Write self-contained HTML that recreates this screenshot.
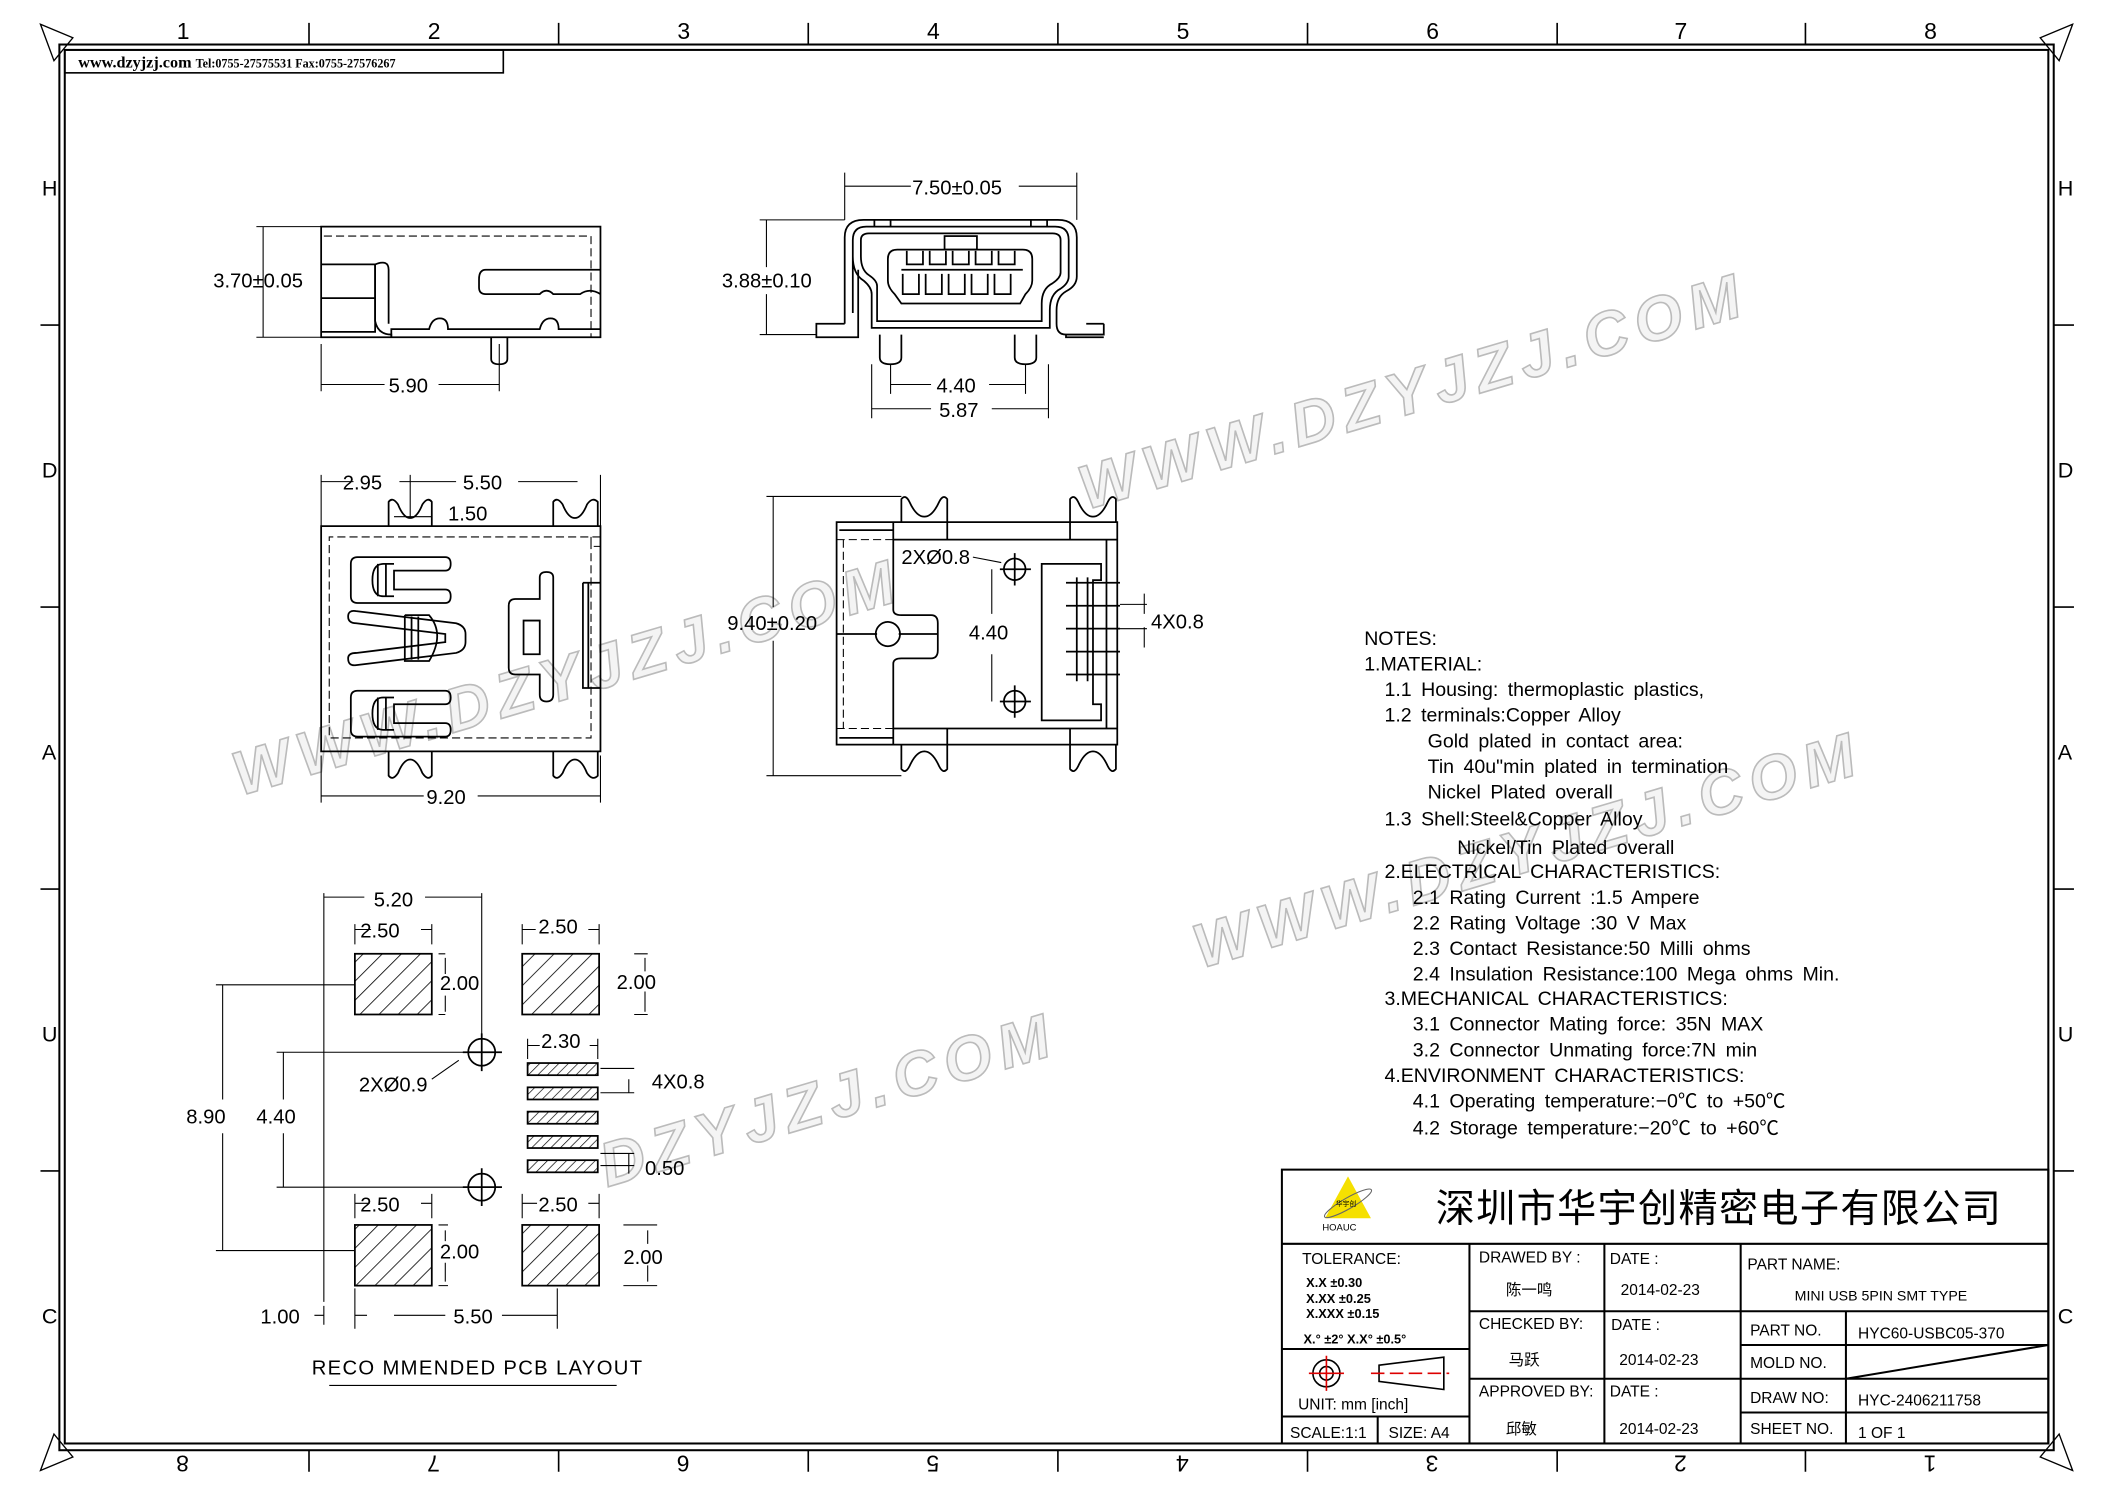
<!DOCTYPE html>
<html><head><meta charset="utf-8"><style>
html,body{margin:0;padding:0;background:#fff}
svg{display:block}
text{font-family:"Liberation Sans","Noto Sans CJK SC",sans-serif;fill:#000}
.t{font-size:15px}
.n{font-size:14.5px}
.s{font-family:"Liberation Serif","Noto Serif CJK SC",serif}
.wm{font-family:"Liberation Sans",sans-serif;font-weight:bold;font-size:46px;fill:#f4f4f4;stroke:#bbb;stroke-width:1.2;letter-spacing:6px;font-style:italic}
</style></head><body>
<svg width="2105" height="1488" viewBox="0 0 1560 1103" preserveAspectRatio="none" xmlns="http://www.w3.org/2000/svg">
<defs>
<pattern id="h" width="10" height="10" patternUnits="userSpaceOnUse" patternTransform="rotate(45)"><line x1="0" y1="0" x2="0" y2="10" stroke="#000" stroke-width="1.2"/></pattern>
<pattern id="h2" width="5" height="5" patternUnits="userSpaceOnUse" patternTransform="rotate(45)"><line x1="0" y1="0" x2="0" y2="5" stroke="#000" stroke-width="1"/></pattern>
</defs>
<rect width="1560" height="1103" fill="#fff"/>
<!-- watermarks -->
<g>
<text class="wm" transform="translate(805,378) rotate(-16.5)">WWW.DZYJZJ.COM</text>
<text class="wm" transform="translate(178,590) rotate(-16.5)">WWW.DZYJZJ.COM</text>
<text class="wm" transform="translate(890,718) rotate(-16.5)">WWW.DZYJZJ.COM</text>
<text class="wm" transform="translate(450,880) rotate(-16.5)">DZYJZJ.COM</text>
</g>
<!-- frame -->
<g fill="none" stroke="#000">
<rect x="44" y="33" width="1478" height="1042" stroke-width="1.5"/>
<rect x="48" y="37" width="1470" height="1033" stroke-width="1.5"/>
<path d="M229,17V33M414,17V33M599,17V33M784,17V33M969,17V33M1154,17V33M1338,17V33" stroke-width="1.2"/>
<path d="M229,1075V1091M414,1075V1091M599,1075V1091M784,1075V1091M969,1075V1091M1154,1075V1091M1338,1075V1091" stroke-width="1.2"/>
<path d="M30,241H44M30,450H44M30,659H44M30,868H44M1522,241H1537M1522,450H1537M1522,659H1537M1522,868H1537" stroke-width="1.2"/>
<path d="M30,18L54,28L40,45Z M1536,18L1512,28L1526,45Z M30,1090L54,1080L40,1063Z M1536,1090L1512,1080L1526,1063Z" stroke-width="1"/>
<rect x="48" y="37" width="325" height="17" stroke-width="1.2"/>
</g>
<g class="t" font-size="17">
<text x="131" y="29" font-size="17">1</text><text x="317" y="29" font-size="17">2</text><text x="502" y="29" font-size="17">3</text><text x="687" y="29" font-size="17">4</text><text x="872" y="29" font-size="17">5</text><text x="1057" y="29" font-size="17">6</text><text x="1241" y="29" font-size="17">7</text><text x="1426" y="29" font-size="17">8</text>
<g font-size="17">
<text transform="translate(140,1079) rotate(180)">8</text><text transform="translate(326,1079) rotate(180)">7</text><text transform="translate(511,1079) rotate(180)">6</text><text transform="translate(696,1079) rotate(180)">5</text><text transform="translate(881,1079) rotate(180)">4</text><text transform="translate(1066,1079) rotate(180)">3</text><text transform="translate(1250,1079) rotate(180)">2</text><text transform="translate(1435,1079) rotate(180)">1</text>
</g>
<text x="31" y="145" font-size="16">H</text><text x="31" y="354" font-size="16">D</text><text x="31" y="563" font-size="16">A</text><text x="31" y="772" font-size="16">U</text><text x="31" y="981" font-size="16">C</text>
<text x="1525" y="145" font-size="16">H</text><text x="1525" y="354" font-size="16">D</text><text x="1525" y="563" font-size="16">A</text><text x="1525" y="772" font-size="16">U</text><text x="1525" y="981" font-size="16">C</text>
</g>
<text x="58" y="50" class="s" font-size="12" font-weight="bold">www.dzyjzj.com <tspan font-size="9">Tel:0755-27575531  Fax:0755-27576267</tspan></text>

<!-- VIEW 1 side -->
<g fill="none" stroke="#000" stroke-width="1.3">
<path d="M238,168H445V250H238Z"/>
<path d="M240,175H438V250" stroke-dasharray="6,3" stroke-width="0.8"/>
<path d="M238,196H278V246H238M238,221H278"/>
<path d="M278,196V238Q280,248 290,248V250M278,196Q288,192 288,200V240"/>
<path d="M445,200H360Q355,200 355,207V213Q355,218 360,218H400Q405,213 410,218H430Q437,213 445,218"/>
<path d="M290,250V244H318Q320,236 326,236Q332,236 332,244H400Q402,236 408,236Q414,236 414,244H445"/>
<path d="M364,250V266Q364,270 370,270Q376,270 376,266V250"/>
<path d="M190,168H238M190,250H238M195,168V250M238,255V290M370,255V290M238,285H285M325,285H370" stroke-width="0.8"/>
</g>
<text x="158" y="213" class="t">3.70±0.05</text>
<text x="288" y="291" class="t">5.90</text>

<!-- VIEW 2 front -->
<g fill="none" stroke="#000" stroke-width="1.3">
<path d="M626,240V176Q626,163 640,163H784Q798,163 798,176V205Q798,212 790,216Q783,220 783,230V240Q783,248 790,248H818V240"/>
<path d="M626,240H605V250H636V200"/>
<path d="M632,232V178Q632,168 642,168H782Q792,168 792,178V205Q792,210 786,214Q778,218 778,230V243H646V218Q646,213 640,208Q632,203 632,190"/>
<path d="M638,178Q638,173 644,173H780Q786,173 786,178V202Q786,206 780,210Q772,214 772,225V238H650V212Q650,208 644,204Q638,200 638,190Z"/>
<path d="M790,248V250H818M805,240H818"/>
<path d="M665,185H758Q765,185 765,192V208Q765,213 760,218L756,225H668L663,218Q658,213 658,208V192Q658,185 665,185Z"/>
<path d="M668,200H758M669,203V218H681V203M686,203V218H698V203M703,203V218H715V203M720,203V218H732V203M737,203V218H749V203"/>
<path d="M672,186V196H684V186M689,186V196H701V186M706,186V196H718V186M723,186V196H735V186M740,186V196H752V186"/>
<rect x="700" y="175" width="24" height="10"/>
<path d="M648,168V163M660,168V163M764,168V163M776,168V163"/>
<path d="M652,248V265Q652,270 660,270Q668,270 668,265V248M752,248V265Q752,270 760,270Q768,270 768,265V248"/>
<path d="M626,163V128M798,163V128M626,138H675M755,138H798M563,163H626M563,248H605M568,163V198M568,218V248M660,270V292M760,270V292M646,270V310M777,270V310M660,285H690M733,285H760M646,303H690M735,303H777" stroke-width="0.8"/>
</g>
<text x="676" y="144" class="t">7.50±0.05</text>
<text x="535" y="213" class="t">3.88±0.10</text>
<text x="694" y="291" class="t">4.40</text>
<text x="696" y="309" class="t">5.87</text>

<!-- VIEW 3 top -->
<g fill="none" stroke="#000" stroke-width="1.3">
<path d="M238,390H445V557H238Z"/>
<path d="M445,398H244V547H438V398M438,398V405H445" stroke-dasharray="6,3" stroke-width="0.8"/>
<path d="M288,390V372Q291,368 295,374Q299,384 304,384Q309,384 313,374Q317,368 320,372V390"/>
<path d="M410,390V372Q413,368 417,374Q421,384 426,384Q431,384 435,374Q439,368 443,372V390"/>
<path d="M288,557V575Q291,579 295,573Q299,563 304,563Q309,563 313,573Q317,579 320,575V557"/>
<path d="M410,557V575Q413,579 417,573Q421,563 426,563Q431,563 435,573Q439,579 443,575V557"/>
<path d="M265,413H330Q334,413 334,418Q334,423 330,423H292V437H330Q334,437 334,442Q334,447 330,447H265Q260,447 260,442V418Q260,413 265,413Z"/>
<path d="M280,418V442M286,418V442M292,418H284Q276,418 276,430Q276,442 284,442H292"/>
<path d="M265,512H330Q334,512 334,517Q334,522 330,522H292V536H330Q334,536 334,541Q334,546 330,546H265Q260,546 260,541V517Q260,512 265,512Z"/>
<path d="M280,517V541M286,517V541M292,517H284Q276,517 276,529Q276,541 284,541H292"/>
<path d="M264,453L338,462Q345,464 345,470V476Q345,482 338,484L264,493Q258,494 258,488Q258,484 264,484L330,476V470L264,462Q258,462 258,457Q258,452 264,453Z"/>
<path d="M300,456H318Q330,470 318,490H300V456M310,457V489M305,457V489"/>
<path d="M382,444H400V428Q400,424 405,424Q410,424 410,428V515Q410,520 405,520Q400,520 400,515V500H382Q377,500 377,495V449Q377,444 382,444Z"/>
<path d="M388,460H400V485H388Z"/>
<path d="M432,432H445M432,432V510H445M436,432V510"/>
<path d="M238,352V390M445,352V390M304,352V384M288,372V388M320,372V388M238,357H262M296,357H338M384,357H428M292,383H320M238,560V595M445,560V595M238,590H314M354,590H445" stroke-width="0.8"/>
</g>
<text x="254" y="363" class="t">2.95</text><text x="343" y="363" class="t">5.50</text><text x="332" y="386" class="t">1.50</text><text x="316" y="596" class="t">9.20</text>

<!-- VIEW 4 bottom -->
<g fill="none" stroke="#000" stroke-width="1.3">
<path d="M620,387H828V552H620Z"/>
<path d="M662,400H828M662,400V452Q662,456 668,456H690Q695,456 695,462V482Q695,488 690,488H668Q662,488 662,492V540H828M662,400V387M662,540V552"/>
<path d="M620,400H662M620,540H662M625,400V540" stroke-dasharray="6,3" stroke-width="0.8"/>
<path d="M622,393H662M622,547H662"/>
<path d="M668,387V370Q671,366 674,372Q679,383 685,383Q691,383 696,372Q699,366 702,370V387M793,387V370Q796,366 799,372Q804,383 810,383Q816,383 821,372Q824,366 827,370V387"/>
<path d="M668,552V570Q671,574 674,568Q679,557 685,557Q691,557 696,568Q699,574 702,570V552M793,552V570Q796,574 799,568Q804,557 810,557Q816,557 821,568Q824,574 827,570V552"/>
<path d="M702,387V400M793,387V400M702,540V552M793,540V552"/>
<path d="M820,400V540M772,418H816V430H810V522H816V534H772Z"/>
<path d="M790,432H830M790,449H830M790,466H830M790,483H830M790,500H830M798,428V505M806,428V505"/>
<circle cx="752" cy="422" r="8"/><circle cx="752" cy="520" r="8"/>
<circle cx="658" cy="470" r="9"/>
<path d="M741,422H764M752,410V434M741,520H764M752,508V532"/>
<path d="M620,470H650M666,470H695"/>
<path d="M568,368H668M568,575H668M573,368V450M573,475V575M735,422V455M735,485V520M721,413L742,417M848,440V455M848,465V480M830,448H850M830,466H850" stroke-width="0.8"/>
</g>
<text x="539" y="467" class="t">9.40±0.20</text>
<text x="668" y="418" class="t">2XØ0.8</text>
<text x="718" y="474" class="t">4.40</text>
<text x="853" y="466" class="t">4X0.8</text>

<!-- PCB layout -->
<g fill="none" stroke="#000" stroke-width="1.3">
<rect x="263" y="707" width="57" height="45" fill="url(#h)"/>
<rect x="387" y="707" width="57" height="45" fill="url(#h)"/>
<rect x="263" y="908" width="57" height="45" fill="url(#h)"/>
<rect x="387" y="908" width="57" height="45" fill="url(#h)"/>
<rect x="391" y="788" width="52" height="9" fill="url(#h2)"/>
<rect x="391" y="806" width="52" height="9" fill="url(#h2)"/>
<rect x="391" y="824" width="52" height="9" fill="url(#h2)"/>
<rect x="391" y="842" width="52" height="9" fill="url(#h2)"/>
<rect x="391" y="860" width="52" height="9" fill="url(#h2)"/>
<circle cx="357" cy="780" r="10"/><circle cx="357" cy="880" r="10"/>
<path d="M343,780H372M357,766V794M343,880H372M357,866V894"/>
<g stroke-width="0.8">
<path d="M240,662V965M357,662V780M240,665H270M315,665H357M263,685V700M320,685V700M263,689H275M312,689H320M387,685V700M444,685V700M387,689H397M436,689H444"/>
<path d="M325,707H330M325,752H330M330,710V722M330,738V750M470,707H480M470,752H480M478,710V720M478,735V750"/>
<path d="M391,770V785M443,770V785M391,775H400M437,775H443M445,792H470M445,810H470M445,864H470M445,855H470M466,800V810M466,855V870"/>
<path d="M160,730H263M160,927H263M165,730V815M165,840V927M205,780H357M205,880H357M210,780V815M210,840V880M320,800L340,786"/>
<path d="M263,885V903M320,885V903M263,892H274M312,892H320M387,885V903M444,885V903M387,892H398M436,892H444M325,908H332M325,953H332M330,912V920M330,936V950M462,908H487M462,953H487M480,912V922M480,938V950"/>
<path d="M263,955V985M413,955V985M233,975H240M263,975H272M292,975H330M372,975H413M240,968V982"/>
<path d="M244,1027H457"/>
</g>
</g>
<text x="277" y="672" class="t">5.20</text>
<text x="267" y="695" class="t">2.50</text><text x="399" y="692" class="t">2.50</text>
<text x="326" y="734" class="t">2.00</text><text x="457" y="733" class="t">2.00</text>
<text x="401" y="777" class="t">2.30</text>
<text x="483" y="807" class="t">4X0.8</text>
<text x="266" y="809" class="t">2XØ0.9</text>
<text x="138" y="833" class="t">8.90</text><text x="190" y="833" class="t">4.40</text>
<text x="478" y="871" class="t">0.50</text>
<text x="267" y="898" class="t">2.50</text><text x="399" y="898" class="t">2.50</text>
<text x="326" y="933" class="t">2.00</text><text x="462" y="937" class="t">2.00</text>
<text x="193" y="981" class="t">1.00</text><text x="336" y="981" class="t">5.50</text>
<text x="231" y="1019" class="t" font-size="15.5" letter-spacing="1">RECO MMENDED PCB LAYOUT</text>

<!-- NOTES -->
<g class="n">
<text x="1011" y="478">NOTES:</text>
<text x="1011" y="497">1.MATERIAL:</text>
<text x="1026" y="516" word-spacing="3">1.1  Housing: thermoplastic plastics,</text>
<text x="1026" y="535" word-spacing="3">1.2  terminals:Copper Alloy</text>
<text x="1058" y="554" word-spacing="3">Gold plated in contact area:</text>
<text x="1058" y="573" word-spacing="3">Tin 40u"min plated in termination</text>
<text x="1058" y="592" word-spacing="3">Nickel Plated overall</text>
<text x="1026" y="612" word-spacing="3">1.3  Shell:Steel&amp;Copper Alloy</text>
<text x="1080" y="633" word-spacing="3">Nickel/Tin Plated overall</text>
<text x="1026" y="651" word-spacing="3">2.ELECTRICAL CHARACTERISTICS:</text>
<text x="1047" y="670" word-spacing="3">2.1  Rating Current :1.5 Ampere</text>
<text x="1047" y="689" word-spacing="3">2.2  Rating Voltage :30 V Max</text>
<text x="1047" y="708" word-spacing="3">2.3  Contact Resistance:50 Milli ohms</text>
<text x="1047" y="727" word-spacing="3">2.4  Insulation Resistance:100 Mega ohms Min.</text>
<text x="1026" y="745" word-spacing="3">3.MECHANICAL CHARACTERISTICS:</text>
<text x="1047" y="764" word-spacing="3">3.1  Connector Mating force: 35N MAX</text>
<text x="1047" y="783" word-spacing="3">3.2  Connector Unmating force:7N min</text>
<text x="1026" y="802" word-spacing="3">4.ENVIRONMENT CHARACTERISTICS:</text>
<text x="1047" y="821" word-spacing="3">4.1  Operating temperature:−0℃ to +50℃</text>
<text x="1047" y="841" word-spacing="3">4.2  Storage temperature:−20℃ to +60℃</text>
</g>

<!-- Title block -->
<g fill="none" stroke="#000" stroke-width="1.5">
<rect x="950" y="867" width="568" height="203"/>
<path d="M950,922H1518M1089,922V1070M1189,922V1070M1290,922V1070M1089,972H1290M1089,1022H1290M1290,972H1518M1290,997H1518M1290,1022H1518M1290,1047H1518M1368,972V1070M1368,1022L1518,997M950,1000H1089M950,1050H1089M1021,1050V1070"/>
</g>
<path d="M999,872L1016,903H982Z" fill="#f5e000"/>
<ellipse cx="999" cy="892" rx="20" ry="4" transform="rotate(-30 999 892)" fill="none" stroke="#666" stroke-width="0.8"/>
<text x="990" y="894" font-size="5" fill="#333">华宇创</text>
<text x="980" y="912" font-size="7">HOAUC</text>
<text x="1064" y="906" font-size="29" font-family="'Noto Sans CJK SC',sans-serif" letter-spacing="1">深圳市华宇创精密电子有限公司</text>
<g font-size="11.5">
<text x="965" y="937">TOLERANCE:</text>
<text x="968" y="954" font-size="9.5" font-weight="bold">X.X    ±0.30</text>
<text x="968" y="966" font-size="9.5" font-weight="bold">X.XX   ±0.25</text>
<text x="968" y="977" font-size="9.5" font-weight="bold">X.XXX ±0.15</text>
<text x="966" y="996" font-size="9.5" font-weight="bold">X.° ±2°      X.X° ±0.5°</text>
<text x="962" y="1045">UNIT:  mm  [inch]</text>
<text x="956" y="1066">SCALE:1:1</text>
<text x="1029" y="1066">SIZE:  A4</text>
<text x="1096" y="936">DRAWED BY :</text>
<text x="1193" y="937">DATE :</text>
<text x="1096" y="985">CHECKED BY:</text>
<text x="1194" y="986">DATE :</text>
<text x="1096" y="1035">APPROVED BY:</text>
<text x="1193" y="1035">DATE :</text>
<text x="1295" y="941">PART NAME:</text>
<text x="1297" y="990">PART NO.</text>
<text x="1297" y="1014">MOLD NO.</text>
<text x="1297" y="1040">DRAW NO:</text>
<text x="1297" y="1063">SHEET NO.</text>
</g>
<g class="s" font-size="11.5" fill="#222">
<text x="1116" y="960" font-family="'Noto Serif CJK SC',serif">陈一鸣</text>
<text x="1201" y="960">2014-02-23</text>
<text x="1118" y="1012" font-family="'Noto Serif CJK SC',serif">马跃</text>
<text x="1200" y="1012">2014-02-23</text>
<text x="1116" y="1063" font-family="'Noto Serif CJK SC',serif">邱敏</text>
<text x="1200" y="1063">2014-02-23</text>
<text x="1330" y="964" font-size="10.5">MINI USB 5PIN SMT TYPE</text>
<text x="1377" y="992">HYC60-USBC05-370</text>
<text x="1377" y="1042">HYC-2406211758</text>
<text x="1377" y="1066">1 OF 1</text>
</g>
<g fill="none" stroke-width="1.2">
<circle cx="983" cy="1018" r="10" stroke="#000"/><circle cx="983" cy="1018" r="5" stroke="#000"/>
<path d="M970,1018H996M983,1005V1031" stroke="#d00"/>
<path d="M1022,1012L1070,1006V1030L1022,1024Z" stroke="#000"/>
<path d="M1016,1018H1074" stroke="#d00" stroke-dasharray="10,4"/>
</g>
</svg>
</body></html>
